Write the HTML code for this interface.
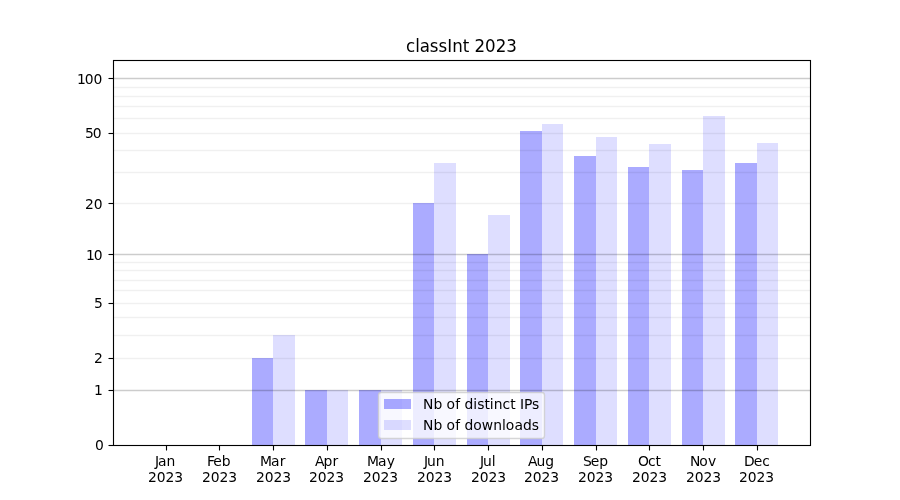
<!DOCTYPE html>
<html lang="en">
<head>
<meta charset="utf-8">
<title>classInt 2023</title>
<style>
html,body{margin:0;padding:0;background:#ffffff;width:900px;height:500px;overflow:hidden}
svg{display:block}
text{font-family:"DejaVu Sans","Liberation Sans",sans-serif;fill:#000000;font-size:13.889px}
.t{font-size:16.667px}
.b1{fill:#0000ff;fill-opacity:.33;shape-rendering:crispEdges}
.b2{fill:#0000ff;fill-opacity:.13;shape-rendering:crispEdges}
.g1{stroke:#000000;stroke-opacity:.2;stroke-width:1.389}
.g2{stroke:#000000;stroke-opacity:.06;stroke-width:1.389}
.k{stroke:#000000;stroke-width:1.111;fill:none}
</style>
</head>
<body>
<svg width="900" height="500" viewBox="0 0 900 500">
<rect x="0" y="0" width="900" height="500" fill="#ffffff"/>

<g>
<rect class="b1" x="252" y="358" width="21" height="87"/>
<rect class="b1" x="305" y="390" width="22" height="55"/>
<rect class="b1" x="359" y="390" width="22" height="55"/>
<rect class="b1" x="413" y="203" width="21" height="242"/>
<rect class="b1" x="467" y="254" width="21" height="191"/>
<rect class="b1" x="520" y="131" width="22" height="314"/>
<rect class="b1" x="574" y="156" width="22" height="289"/>
<rect class="b1" x="628" y="167" width="21" height="278"/>
<rect class="b1" x="682" y="170" width="21" height="275"/>
<rect class="b1" x="735" y="163" width="22" height="282"/>
</g>
<g>
<rect class="b2" x="273" y="335" width="22" height="110"/>
<rect class="b2" x="327" y="390" width="21" height="55"/>
<rect class="b2" x="381" y="390" width="21" height="55"/>
<rect class="b2" x="434" y="163" width="22" height="282"/>
<rect class="b2" x="488" y="215" width="22" height="230"/>
<rect class="b2" x="542" y="124" width="21" height="321"/>
<rect class="b2" x="596" y="137" width="21" height="308"/>
<rect class="b2" x="649" y="144" width="22" height="301"/>
<rect class="b2" x="703" y="116" width="22" height="329"/>
<rect class="b2" x="757" y="143" width="21" height="302"/>
</g>
<g>
<line class="g1" x1="113.5" x2="810.5" y1="78.5" y2="78.5"/>
<line class="g1" x1="113.5" x2="810.5" y1="254.5" y2="254.5"/>
<line class="g1" x1="113.5" x2="810.5" y1="390.5" y2="390.5"/>
<line class="g2" x1="113.5" x2="810.5" y1="87.5" y2="87.5"/>
<line class="g2" x1="113.5" x2="810.5" y1="96.5" y2="96.5"/>
<line class="g2" x1="113.5" x2="810.5" y1="106.5" y2="106.5"/>
<line class="g2" x1="113.5" x2="810.5" y1="118.5" y2="118.5"/>
<line class="g2" x1="113.5" x2="810.5" y1="133.5" y2="133.5"/>
<line class="g2" x1="113.5" x2="810.5" y1="150.5" y2="150.5"/>
<line class="g2" x1="113.5" x2="810.5" y1="172.5" y2="172.5"/>
<line class="g2" x1="113.5" x2="810.5" y1="203.5" y2="203.5"/>
<line class="g2" x1="113.5" x2="810.5" y1="262.5" y2="262.5"/>
<line class="g2" x1="113.5" x2="810.5" y1="270.5" y2="270.5"/>
<line class="g2" x1="113.5" x2="810.5" y1="280.5" y2="280.5"/>
<line class="g2" x1="113.5" x2="810.5" y1="290.5" y2="290.5"/>
<line class="g2" x1="113.5" x2="810.5" y1="303.5" y2="303.5"/>
<line class="g2" x1="113.5" x2="810.5" y1="317.5" y2="317.5"/>
<line class="g2" x1="113.5" x2="810.5" y1="335.5" y2="335.5"/>
<line class="g2" x1="113.5" x2="810.5" y1="358.5" y2="358.5"/>
</g>
<g>
<line class="k" x1="166.5" x2="166.5" y1="445.5" y2="450.5"/>
<line class="k" x1="219.5" x2="219.5" y1="445.5" y2="450.5"/>
<line class="k" x1="273.5" x2="273.5" y1="445.5" y2="450.5"/>
<line class="k" x1="327.5" x2="327.5" y1="445.5" y2="450.5"/>
<line class="k" x1="381.5" x2="381.5" y1="445.5" y2="450.5"/>
<line class="k" x1="434.5" x2="434.5" y1="445.5" y2="450.5"/>
<line class="k" x1="488.5" x2="488.5" y1="445.5" y2="450.5"/>
<line class="k" x1="542.5" x2="542.5" y1="445.5" y2="450.5"/>
<line class="k" x1="596.5" x2="596.5" y1="445.5" y2="450.5"/>
<line class="k" x1="649.5" x2="649.5" y1="445.5" y2="450.5"/>
<line class="k" x1="703.5" x2="703.5" y1="445.5" y2="450.5"/>
<line class="k" x1="757.5" x2="757.5" y1="445.5" y2="450.5"/>
<line class="k" x1="108.5" x2="113.5" y1="445.5" y2="445.5"/>
<line class="k" x1="108.5" x2="113.5" y1="390.5" y2="390.5"/>
<line class="k" x1="108.5" x2="113.5" y1="358.5" y2="358.5"/>
<line class="k" x1="108.5" x2="113.5" y1="303.5" y2="303.5"/>
<line class="k" x1="108.5" x2="113.5" y1="254.5" y2="254.5"/>
<line class="k" x1="108.5" x2="113.5" y1="203.5" y2="203.5"/>
<line class="k" x1="108.5" x2="113.5" y1="133.5" y2="133.5"/>
<line class="k" x1="108.5" x2="113.5" y1="78.5" y2="78.5"/>
<rect class="k" x="113.5" y="60.5" width="697" height="385"/>
</g>
<g>
<text x="155 158 166.5" y="466">Jan</text><text x="148 156.75 165.5 174.25" y="482">2023</text>
<text x="207 213.25 221.75" y="466">Feb</text><text x="202 210.75 219.5 228.25" y="482">2023</text>
<text x="260 271 279.75" y="466">Mar</text><text x="256 264.75 273.5 282.25" y="482">2023</text>
<text x="315 323.5 332.5" y="466">Apr</text><text x="309 317.75 326.5 335.25" y="482">2023</text>
<text x="367 378 386.75" y="466">May</text><text x="363 371.75 380.5 389.25" y="482">2023</text>
<text x="424 427 435.75" y="466">Jun</text><text x="417 425.75 434.5 443.25" y="482">2023</text>
<text x="480 483 491.75" y="466">Jul</text><text x="471 479.75 488.5 497.25" y="482">2023</text>
<text x="528 536.5 545.25" y="466">Aug</text><text x="524 532.75 541.5 550.25" y="482">2023</text>
<text x="583 590.75 599.25" y="466">Sep</text><text x="578 586.75 595.5 604.25" y="482">2023</text>
<text x="638 648 655.5" y="466">Oct</text><text x="632 640.75 649.5 658.25" y="482">2023</text>
<text x="690 699.25 708" y="466">Nov</text><text x="686 694.75 703.5 712.25" y="482">2023</text>
<text x="744 753.75 762.25" y="466">Dec</text><text x="739 747.75 756.5 765.25" y="482">2023</text>
</g>
<g>
<text x="95" y="450">0</text>
<text x="94" y="395">1</text>
<text x="94" y="363">2</text>
<text x="94" y="308">5</text>
<text x="86 93.75" y="260">10</text>
<text x="85 93.75" y="209">20</text>
<text x="85 92.75" y="138">50</text>
<text x="77 84.75 93.5" y="84">100</text>
</g>
<text class="t" transform="translate(0,52) scale(1,1.06)" x="406 415.25 419.75 429.75 438.5 447.25 452.25 462.75 469 474.5 485 495.75 506.25" y="0">classInt 2023</text>
<g>
<rect x="378.5" y="392.5" width="166" height="46" rx="2.78" ry="2.78" fill="#ffffff" fill-opacity=".79" stroke="#cccccc" stroke-opacity=".8" stroke-width="1.389"/>
<rect class="b1" x="384" y="399" width="27" height="10"/>
<rect class="b2" x="384" y="420" width="27" height="10"/>
<text x="423 433.5 442.25 446.5 455.25 460 464.5 473.25 477.25 484.5 489.75 493.75 502.5 510.25 515.5 520 524 532" y="409">Nb of distinct IPs</text>
<text x="423 433.5 442.25 446.5 455.25 460 464.5 473.25 481.75 493.25 502 505.75 514.5 523 531.75" y="430">Nb of downloads</text>
</g>
</svg>
</body>
</html>
